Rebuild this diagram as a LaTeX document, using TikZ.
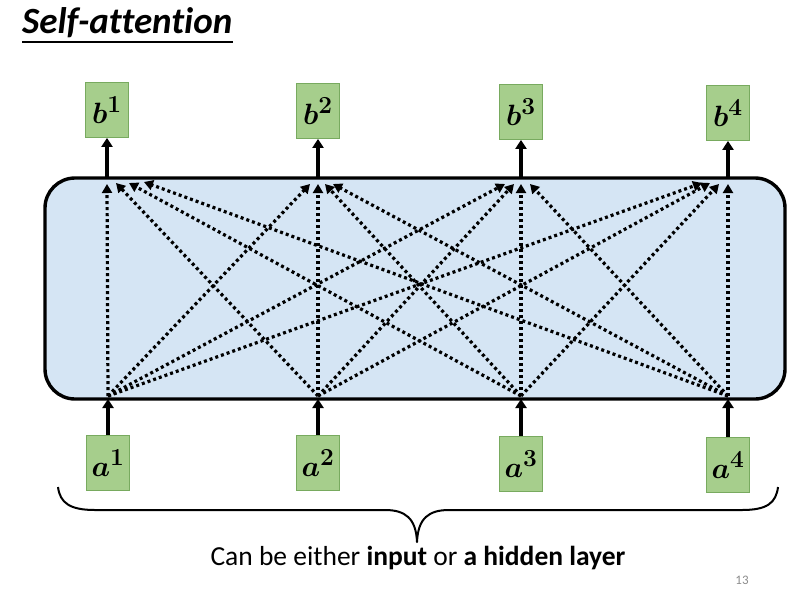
\documentclass[tikz,border=0pt]{standalone}
\usepackage[no-math]{fontspec}
\setmainfont{Carlito}[Ligatures=NoCommon]
\usepackage{bm}
\usepackage{graphicx}
\usetikzlibrary{arrows.meta}
\definecolor{boxfill}{RGB}{166,206,140}
\definecolor{boxedge}{RGB}{120,170,95}
\definecolor{panelfill}{RGB}{213,229,244}
\definecolor{pagegray}{RGB}{140,140,140}
\newcommand{\veclab}[2]{\scalebox{1.18}{$\bm{#1}^{\bm{#2}}$}}
\tikzset{
  vecbox/.style={draw=boxedge, line width=0.8pt, fill=boxfill, minimum width=43pt, minimum height=55pt, inner sep=0pt, font=\fontsize{24.88}{28}\selectfont},
  panel/.style={draw=black, line width=3.4pt, fill=panelfill, rounded corners=30pt, minimum width=740pt, minimum height=221pt, inner sep=0pt},
  solidarrow/.style={line width=3.2pt, -{Triangle[width=11pt,length=9pt]}},
  dotarrow/.style={line width=3.2pt, dash pattern=on 3pt off 3pt, -{Triangle[width=10pt,length=9pt]}},
}
\begin{document}
\begin{tikzpicture}[x=1pt,y=-1pt]
\useasboundingbox (0,0) rectangle (794,598);
% title
\node[anchor=base west, inner sep=0pt, font=\fontsize{37}{37}\selectfont\bfseries\itshape] (title) at (22,33) {Self-attention};
\draw[line width=1.5pt] (22,42) -- (233,42);
% panel
\node[panel] (panel) at (415,288.5) {};
% output boxes
\node[vecbox] (b1) at (107,110) {\veclab{b}{1}};
\node[vecbox] (b2) at (318,111) {\veclab{b}{2}};
\node[vecbox] (b3) at (521,112) {\veclab{b}{3}};
\node[vecbox] (b4) at (728,113) {\veclab{b}{4}};
% input boxes
\node[vecbox] (a1) at (108,463) {\veclab{a}{1}};
\node[vecbox] (a2) at (318,463) {\veclab{a}{2}};
\node[vecbox] (a3) at (521,464) {\veclab{a}{3}};
\node[vecbox] (a4) at (728,465) {\veclab{a}{4}};
% panel anchor points
\coordinate (pt1) at (107,178); \coordinate (pt2) at (318,178);
\coordinate (pt3) at (521,178); \coordinate (pt4) at (728,178);
\coordinate (pb1) at (108,399); \coordinate (pb2) at (318,399);
\coordinate (pb3) at (521,399); \coordinate (pb4) at (728,399);
% solid arrows
\draw[solidarrow] (pt1) -- (b1.south);
\draw[solidarrow] (pt2) -- (b2.south);
\draw[solidarrow] (pt3) -- (b3.south);
\draw[solidarrow] (pt4) -- (b4.south);
\draw[solidarrow] (a1.north) -- (pb1);
\draw[solidarrow] (a2.north) -- (pb2);
\draw[solidarrow] (a3.north) -- (pb3);
\draw[solidarrow] (a4.north) -- (pb4);
% sources of attention arrows
\coordinate (s1) at (108,396); \coordinate (s2) at (318,396);
\coordinate (s3) at (521,396); \coordinate (s4) at (728,396);
% targets
\coordinate (t11) at (107,184); \coordinate (t21) at (116,183); \coordinate (t31) at (129,183); \coordinate (t41) at (144,182);
\coordinate (t12) at (310,184); \coordinate (t22) at (318,184); \coordinate (t32) at (325,184); \coordinate (t42) at (333,184);
\coordinate (t13) at (505,184); \coordinate (t23) at (514,184); \coordinate (t33) at (521,184); \coordinate (t43) at (530,184);
\coordinate (t14) at (702,183); \coordinate (t24) at (710,183); \coordinate (t34) at (719,184); \coordinate (t44) at (728,184);
\foreach \i in {1,2,3,4}{
  \foreach \j in {1,2,3,4}{
    \draw[dotarrow] (s\i) -- (t\i\j);
  }
}
% brace
\draw[line width=2pt, line join=round] (58,487) .. controls (60,503) and (70,510) .. (95,510)
  -- (385,510) .. controls (405,510) and (416,518) .. (417,542)
  .. controls (418,518) and (429,510) .. (449,510) -- (742,510)
  .. controls (767,510) and (776,503) .. (778,487);
\coordinate (bracetip) at (417,542);
\node[anchor=base, inner sep=0pt, font=\fontsize{27.5}{27.5}\selectfont] (caption) at (418,565) {Can be either \textbf{input} or \textbf{a hidden layer}};
\node[anchor=base, inner sep=0pt, font=\fontsize{13}{13}\selectfont, text=pagegray] (pagenum) at (742,584) {13};
\end{tikzpicture}
\end{document}
